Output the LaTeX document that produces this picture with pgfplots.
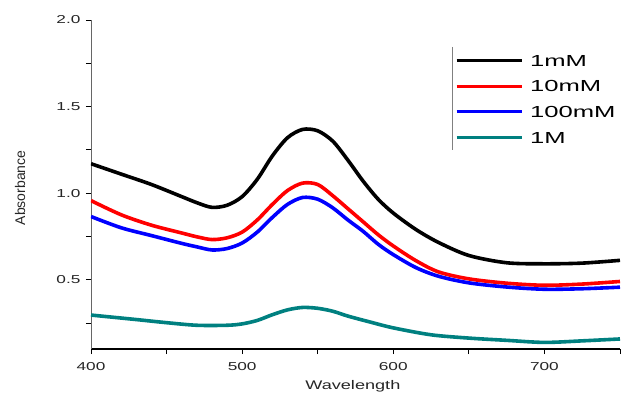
\documentclass[border=0pt]{standalone}
\usepackage{fontspec}
\setmainfont{Liberation Sans}
\newfontfamily\tickfont[FakeStretch=1.5]{Liberation Sans}
\newfontfamily\legfont[FakeStretch=1.6]{Liberation Sans}
\newfontfamily\labfont[FakeStretch=1.45]{Liberation Sans}
\usepackage{pgfplots}
\pgfplotsset{compat=1.18}
\definecolor{teal1}{RGB}{0,128,128}
\begin{document}
\begin{tikzpicture}
\begin{axis}[
  name=ax,
  scale only axis,
  width=529pt, height=329pt,
  xmin=400, xmax=750, ymin=0.1, ymax=2.0,
  axis x line*=bottom, axis y line*=left,
  x axis line style={black, line width=1.3pt},
  y axis line style={gray!80!black, line width=0.9pt},
  xtick={400,500,600,700}, minor xtick={450,550,650,750},
  ytick={0.5,1.0,1.5,2.0}, minor ytick={0.25,0.75,1.25,1.75},
  tick align=outside,
  major tick length=5pt, minor tick length=5pt,
  every tick/.style={black, line width=0.8pt},
  /pgf/number format/assume math mode=true,
  yticklabel style={/pgf/number format/fixed, /pgf/number format/fixed zerofill, /pgf/number format/precision=1, font=\tickfont\fontsize{11.5}{12}\selectfont, text=black!85, xshift=-2pt},
  xticklabel style={font=\tickfont\fontsize{11.5}{12}\selectfont, text=black!85, yshift=-5pt},
  xlabel={Wavelength},
  ylabel={Absorbance},
  xlabel style={font=\labfont\fontsize{12.5}{14}\selectfont, text=black!85, at={(axis description cs:0.495,0)}, anchor=center, yshift=-37pt},
  ylabel style={font=\fontsize{14}{15}\selectfont, text=black!85, at={([xshift=-71pt]axis description cs:0,0.49)}, anchor=center},
  legend cell align=left,
  legend style={at={(axis description cs:0.688,0.895)}, anchor=north west, draw=none, fill=none,
    font=\legfont\fontsize{16}{16}\selectfont, inner sep=0pt, row sep=14.2pt, column sep=7pt,
    nodes={inner sep=0pt, text height=11.5pt, text depth=0pt}},
  legend image code/.code={\draw[#1, line width=3pt] (0pt,0pt) -- (65pt,0pt);},
]
\addplot[black, line width=3.6pt, smooth] coordinates {
(400,1.17) (420,1.11) (440,1.05) (460,0.98) (470,0.945) (480,0.918) (490,0.93) (500,0.98) (510,1.08) (520,1.215) (530,1.32) (540,1.368) (550,1.36) (560,1.30) (570,1.19) (580,1.07) (590,0.965) (600,0.885) (615,0.79) (630,0.715) (650,0.64) (675,0.598) (700,0.592) (725,0.596) (750,0.612)};
\addlegendentry{1mM}
\addplot[red, line width=3.6pt, smooth] coordinates {
(400,0.957) (420,0.875) (440,0.815) (460,0.77) (470,0.748) (480,0.732) (490,0.742) (500,0.775) (510,0.845) (520,0.935) (530,1.015) (540,1.058) (550,1.05) (560,0.985) (570,0.91) (580,0.835) (590,0.76) (600,0.695) (615,0.61) (630,0.545) (650,0.505) (675,0.48) (700,0.468) (725,0.475) (750,0.49)};
\addlegendentry{10mM}
\addplot[blue, line width=3.6pt, smooth] coordinates {
(400,0.865) (420,0.80) (440,0.755) (460,0.71) (470,0.69) (480,0.672) (490,0.68) (500,0.712) (510,0.775) (520,0.86) (530,0.935) (540,0.975) (550,0.965) (560,0.915) (570,0.845) (580,0.78) (590,0.705) (600,0.645) (615,0.57) (630,0.52) (650,0.482) (675,0.458) (700,0.445) (725,0.448) (750,0.457)};
\addlegendentry{100mM}
\addplot[teal1, line width=3.6pt, smooth] coordinates {
(400,0.296) (430,0.27) (450,0.252) (470,0.237) (490,0.237) (500,0.245) (510,0.265) (520,0.298) (530,0.326) (540,0.34) (550,0.335) (560,0.318) (570,0.29) (585,0.255) (600,0.222) (625,0.182) (650,0.163) (675,0.15) (700,0.138) (725,0.147) (750,0.158)};
\addlegendentry{1M}
\draw[gray, line width=0.9pt] (axis description cs:0.6825,0.918) -- (axis description cs:0.6825,0.605);
\end{axis}
\pgfresetboundingbox
\path ([shift={(-91pt,-49pt)}]ax.south west) rectangle ([shift={(532pt,349pt)}]ax.south west);
\end{tikzpicture}
\end{document}
